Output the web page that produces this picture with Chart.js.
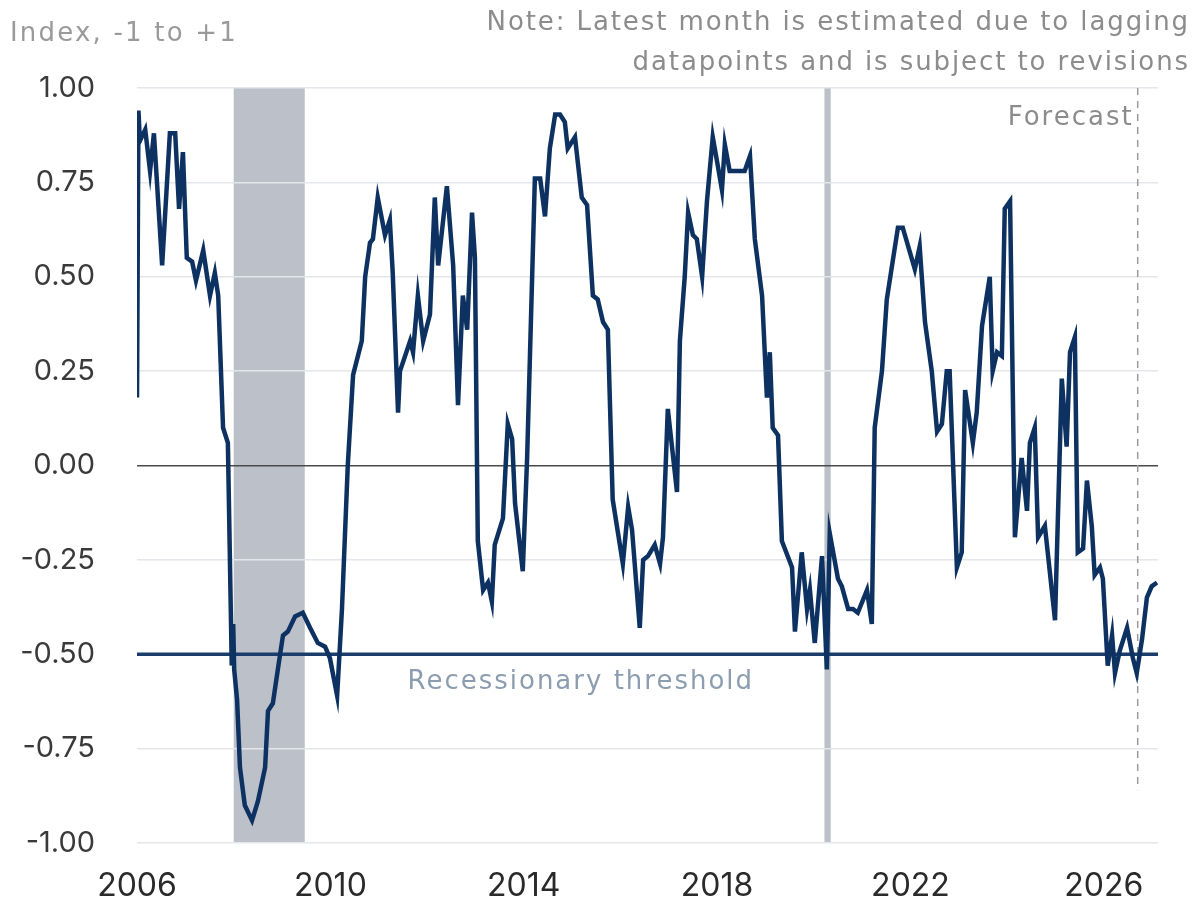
<!DOCTYPE html>
<html><head><meta charset="utf-8">
<script src="https://cdn.jsdelivr.net/npm/chart.js@4.4.1/dist/chart.umd.min.js"></script>
<style>
html,body{margin:0;padding:0;background:#fff;}
#wrap{position:relative;width:1200px;height:916px;overflow:hidden;}
canvas{position:absolute;left:0;top:0;}
.txt{position:absolute;font-family:"DejaVu Sans",sans-serif;color:#8c8c8c;font-size:26px;letter-spacing:1.9px;white-space:nowrap;}
</style></head><body>
<div id="wrap">
<canvas id="c" width="1200" height="916"></canvas>
<div class="txt" id="title" style="left:10px;top:17px;color:#9a9a9a;letter-spacing:2.2px;">Index, -1 to +1</div>
<div class="txt" id="note" style="right:10px;top:1px;text-align:right;line-height:40px;">Note: Latest month is estimated due to lagging<br>datapoints and is subject to revisions</div>
</div>
<script>
// ---- data ----
const dates = [
2006.00,2006.03,2006.06,2006.17,2006.27,2006.35,2006.52,2006.68,2006.79,2006.87,2006.95,
2007.03,2007.14,2007.22,2007.37,2007.51,2007.61,2007.68,2007.78,2007.88,2007.96,2007.99,
2008.01,2008.07,2008.13,2008.23,2008.38,2008.50,2008.65,2008.71,2008.81,2008.96,
2009.02,2009.12,2009.27,2009.43,2009.58,2009.74,2009.89,2009.99,
2010.14,2010.24,2010.36,2010.47,2010.65,2010.72,2010.82,2010.88,2010.98,
2011.13,2011.23,2011.29,2011.40,2011.44,2011.65,2011.71,2011.81,2011.92,
2012.06,2012.16,2012.23,2012.41,2012.54,2012.64,2012.74,2012.83,2012.93,2012.99,
2013.05,2013.16,2013.26,2013.34,2013.40,2013.57,2013.67,2013.76,2013.82,2013.98,
2014.07,2014.23,2014.34,2014.44,2014.54,2014.65,2014.75,2014.85,2014.91,
2015.06,2015.20,2015.31,2015.43,2015.53,2015.64,2015.74,2015.84,
2016.05,2016.16,2016.24,2016.40,2016.47,2016.57,2016.71,2016.82,2016.88,2016.98,
2017.17,2017.23,2017.33,2017.40,2017.50,2017.58,2017.69,2017.79,2017.91,
2018.02,2018.10,2018.16,2018.26,2018.47,2018.57,2018.68,2018.78,2018.93,
2019.03,2019.09,2019.15,2019.26,2019.34,2019.55,2019.61,2019.75,2019.86,2019.92,
2020.02,2020.17,2020.27,2020.33,2020.50,2020.58,2020.71,2020.81,2020.91,
2021.10,2021.20,2021.26,2021.41,2021.51,2021.74,2021.84,
2022.09,2022.19,2022.30,2022.44,2022.55,2022.65,2022.75,2022.81,2022.96,
2023.06,2023.13,2023.29,2023.37,2023.48,2023.64,2023.70,2023.79,2023.89,2023.95,
2024.06,2024.16,2024.30,2024.41,2024.47,2024.57,2024.64,2024.78,2024.99,
2025.13,2025.23,2025.30,2025.40,2025.46,2025.57,2025.65,2025.75,2025.81,2025.92,2025.98,
2026.08,2026.17,2026.23,2026.33,2026.48,2026.60,2026.68,2026.79,2026.89,2026.99,2027.10
];
const indexValues = [
0.18,0.94,0.86,0.89,0.78,0.88,0.53,0.88,0.88,0.68,0.83,
0.55,0.54,0.49,0.57,0.45,0.51,0.45,0.10,0.06,-0.53,-0.42,
-0.54,-0.62,-0.80,-0.90,-0.94,-0.89,-0.80,-0.65,-0.63,-0.50,
-0.45,-0.44,-0.40,-0.39,-0.43,-0.47,-0.48,-0.51,
-0.61,-0.38,0.00,0.24,0.33,0.50,0.59,0.60,0.71,
0.61,0.65,0.51,0.14,0.25,0.33,0.30,0.45,0.33,
0.40,0.71,0.53,0.74,0.53,0.16,0.45,0.36,0.67,0.55,
-0.20,-0.33,-0.31,-0.36,-0.21,-0.14,0.11,0.07,-0.10,-0.28,
0.02,0.76,0.76,0.66,0.84,0.93,0.93,0.91,0.84,
0.87,0.71,0.69,0.45,0.44,0.38,0.36,-0.09,
-0.26,-0.11,-0.17,-0.43,-0.25,-0.24,-0.21,-0.26,-0.19,0.15,
-0.07,0.33,0.50,0.67,0.61,0.60,0.50,0.70,0.87,
0.79,0.73,0.85,0.78,0.78,0.78,0.82,0.60,0.45,
0.18,0.30,0.10,0.08,-0.20,-0.27,-0.44,-0.23,-0.38,-0.33,
-0.47,-0.24,-0.54,-0.18,-0.30,-0.32,-0.38,-0.38,-0.39,
-0.33,-0.42,0.10,0.25,0.44,0.63,0.63,
0.52,0.58,0.38,0.25,0.09,0.11,0.25,0.25,-0.27,
-0.23,0.20,0.06,0.14,0.37,0.50,0.25,0.30,0.29,0.68,
0.70,-0.19,0.02,-0.12,0.06,0.10,-0.19,-0.16,-0.41,
0.23,0.05,0.30,0.34,-0.23,-0.22,-0.04,-0.16,-0.29,-0.27,-0.30,
-0.53,-0.45,-0.55,-0.49,-0.43,-0.51,-0.55,-0.46,-0.35,-0.32,-0.31
];
const yearTicks = [2006, 2010, 2014, 2018, 2022, 2026];
const yTicks = [-1, -0.75, -0.5, -0.25, 0, 0.25, 0.5, 0.75, 1];
const recessions = [[2008.00, 2009.47], [2020.22, 2020.35]];
const thresholdValue = -0.5;
const forecastDate = 2026.70;
const forecastBottom = -0.86;
const xMin = 2006, xMax = 2027.12;

// ---- chart ----
const navy = '#0d3262';
const tickFont = 'Inter, "Noto Sans", sans-serif';
const textFont = '"DejaVu Sans", sans-serif';

const series = dates.map((d, i) => ({x: d, y: indexValues[i]}));

const overlay = {
  id: 'overlay',
  beforeDraw(chart) {
    const {ctx, chartArea: a, scales: {x}} = chart;
    ctx.save();
    ctx.fillStyle = '#bcc1c9';
    recessions.forEach(([s, e]) => {
      const x0 = x.getPixelForValue(s), x1 = x.getPixelForValue(e);
      ctx.fillRect(x0, a.top, x1 - x0, a.bottom - a.top);
    });
    ctx.restore();
  },
  afterDraw(chart) {
    const {ctx, scales: {x, y}} = chart;
    ctx.save();
    ctx.font = '26px ' + textFont;
    try { ctx.letterSpacing = '2px'; } catch (e) {}
    ctx.fillStyle = '#8c8c8c';
    ctx.textAlign = 'right';
    ctx.textBaseline = 'middle';
    ctx.fillText('Forecast', x.getPixelForValue(forecastDate) - 4, y.getPixelForValue(0.92));
    ctx.fillStyle = '#8d9db0';
    ctx.textAlign = 'center';
    ctx.fillText('Recessionary threshold', x.getPixelForValue(2015.18), y.getPixelForValue(thresholdValue) + 28);
    ctx.restore();
  }
};

new Chart(document.getElementById('c'), {
  type: 'line',
  data: {
    datasets: [
      {
        label: 'Index',
        data: series,
        borderColor: navy,
        borderWidth: 4.5,
        pointRadius: 0,
        tension: 0,
        order: 0
      },
      {
        label: 'Recessionary threshold',
        data: [{x: xMin, y: thresholdValue}, {x: xMax, y: thresholdValue}],
        borderColor: '#1a3d6b',
        borderWidth: 3.5,
        pointRadius: 0,
        order: 1
      },
      {
        label: 'Forecast',
        data: [{x: forecastDate, y: 1}, {x: forecastDate, y: forecastBottom}],
        borderColor: '#9a9a9a',
        borderWidth: 1.5,
        borderDash: [7, 6],
        pointRadius: 0,
        order: 2
      }
    ]
  },
  options: {
    responsive: false,
    animation: false,
    layout: {padding: {top: 88, right: 42, left: 0, bottom: 0}},
    plugins: {legend: {display: false}, tooltip: {enabled: false}, title: {display: false}},
    scales: {
      x: {
        type: 'linear',
        min: xMin, max: xMax,
        afterBuildTicks: s => { s.ticks = yearTicks.map(v => ({value: v})); },
        afterFit: s => { s.height = 73; },
        grid: {display: false, drawTicks: false},
        border: {display: false},
        ticks: {
          autoSkip: false, maxRotation: 0,
          padding: 24,
          color: '#2a2a2a',
          font: {family: tickFont, size: 32},
          callback: v => String(v)
        }
      },
      y: {
        min: -1, max: 1,
        afterBuildTicks: s => { s.ticks = yTicks.map(v => ({value: v})); },
        afterFit: s => { s.width = 137; },
        grid: {
          drawTicks: false,
          color: c => c.tick.value === 0 ? '#4a4a4a' : '#e3e6ea',
          lineWidth: 1.5
        },
        border: {display: false},
        ticks: {
          padding: 42,
          color: '#3a3a3a',
          font: {family: tickFont, size: 29},
          callback: v => v.toFixed(2)
        }
      }
    }
  },
  plugins: [overlay]
});
</script>
</body></html>
